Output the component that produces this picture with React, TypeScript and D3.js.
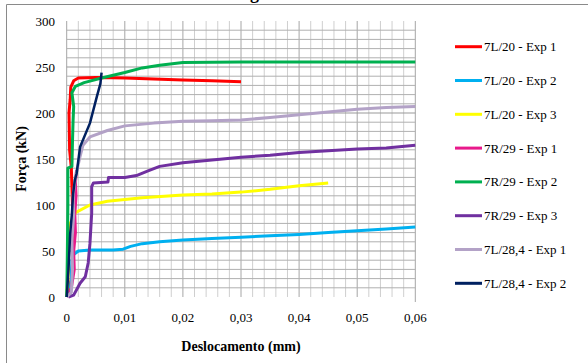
import * as d3 from "d3";

type Pt = [number, number];

// displacement (mm), force (kN)
const s7L20Exp1: Pt[] = [
  [0, 0], [0.0008, 20], [0.0012, 60], [0.001, 100], [0.0008, 140], [0.0005, 160],
  [0.0004, 200], [0.0006, 215], [0.0007, 228], [0.0012, 235], [0.002, 238],
  [0.005, 238.5], [0.01, 238], [0.015, 237], [0.02, 236], [0.025, 235], [0.03, 234],
];
const s7L20Exp2: Pt[] = [
  [0.0005, 0], [0.0008, 20], [0.0009, 40], [0.0012, 46], [0.002, 50], [0.004, 51],
  [0.008, 51], [0.0097, 52], [0.011, 55], [0.013, 58], [0.016, 60], [0.02, 62],
  [0.025, 63.5], [0.03, 65], [0.035, 66.5], [0.04, 68], [0.045, 70], [0.05, 72],
  [0.055, 74], [0.06, 76],
];
const s7L20Exp3: Pt[] = [
  [0, 0], [0.0003, 30], [0.0002, 60], [0.0003, 76], [0.0012, 88], [0.0016, 92],
  [0.004, 100], [0.007, 104], [0.013, 108], [0.02, 111], [0.025, 112], [0.03, 114],
  [0.035, 117], [0.04, 121], [0.045, 124],
];
const s7R29Exp1: Pt[] = [
  [0, 0], [0.0008, 10], [0.0013, 30], [0.0012, 50], [0.0015, 70], [0.0014, 90],
  [0.0016, 110], [0.0015, 125], [0.0017, 138],
];
const s7R29Exp2: Pt[] = [
  [0, 0], [0.0001, 40], [0.0002, 100], [0.0002, 140], [0.0009, 142], [0.001, 170],
  [0.0011, 192], [0.0012, 207], [0.0009, 222], [0.0015, 229], [0.003, 233],
  [0.006, 238], [0.01, 244], [0.013, 249], [0.016, 252], [0.02, 255], [0.03, 255.5],
  [0.04, 255.5], [0.05, 255.5], [0.06, 255.5],
];
const s7R29Exp3: Pt[] = [
  [0.0003, 0], [0.0012, 2], [0.0023, 15], [0.0032, 22], [0.0037, 37], [0.004, 58],
  [0.0043, 91], [0.0043, 120], [0.0046, 124], [0.0071, 125], [0.0072, 130],
  [0.01, 130], [0.012, 132], [0.014, 137], [0.016, 142], [0.02, 146], [0.025, 149],
  [0.03, 152], [0.035, 154], [0.04, 157], [0.045, 159], [0.05, 161], [0.055, 162],
  [0.06, 165],
];
const s7L284Exp1: Pt[] = [
  [0, 0], [0.0008, 5], [0.001, 30], [0.0009, 60], [0.0012, 90], [0.0011, 110],
  [0.0015, 130], [0.0022, 150], [0.0028, 165], [0.004, 174], [0.007, 181],
  [0.01, 186], [0.015, 189], [0.02, 191], [0.025, 191.5], [0.03, 192.5],
  [0.035, 195], [0.04, 198], [0.045, 201], [0.05, 204], [0.055, 206], [0.06, 207],
];
const s7L284Exp2: Pt[] = [
  [0, 0], [0.0003, 29], [0.0006, 69], [0.0009, 91], [0.0011, 112], [0.0014, 127],
  [0.0017, 134], [0.0023, 163], [0.004, 189], [0.0052, 218], [0.0058, 232],
  [0.006, 244],
];

const seriesNames = [
  "7L/20 - Exp 1", "7L/20 - Exp 2", "7L/20 - Exp 3", "7R/29 - Exp 1",
  "7R/29 - Exp 2", "7R/29 - Exp 3", "7L/28,4 - Exp 1", "7L/28,4 - Exp 2",
];
const seriesData = [
  s7L20Exp1, s7L20Exp2, s7L20Exp3, s7R29Exp1,
  s7R29Exp2, s7R29Exp3, s7L284Exp1, s7L284Exp2,
];
const colors = [
  "#ff0000", "#00b0f0", "#ffff00", "#e8198b",
  "#00b050", "#7030a0", "#b3a2c7", "#002060",
];

const xTicks = [0, 0.01, 0.02, 0.03, 0.04, 0.05, 0.06];
const yTicks = [0, 50, 100, 150, 200, 250, 300];

const font = "Liberation Serif, DejaVu Serif, serif";

export default function App() {
  const x = d3.scaleLinear().domain([0, 0.06]).range([66.7, 415.3]);
  const y = d3.scaleLinear().domain([0, 300]).range([297, 21]);
  const line = d3
    .line<Pt>()
    .x((d) => x(d[0]))
    .y((d) => y(d[1]));

  const vGrid = d3.range(0, 31).map((i) => i * 0.002);
  const hGrid = d3.range(1, 30).map((i) => i * 10);

  return (
    <svg
      width={588}
      height={363}
      style={{ position: "fixed", left: 0, top: 0, background: "#fff", fontFamily: font }}
    >
      <rect width={588} height={363} fill="#fff" />
      {/* frame */}
      <path d="M6.5,363V4.5H588" fill="none" stroke="#8a8a8a" strokeWidth={1} />
      <text x={250} y={-1} fontSize={18} fontWeight="bold" style={{ fontFamily: font }}>g</text>

      {/* grid */}
      {vGrid.map((v, i) => (
        <line
          key={`v${i}`}
          x1={x(v)}
          x2={x(v)}
          y1={y(300)}
          y2={i === 30 ? 302 : y(0)}
          stroke={i % 5 === 0 ? "#a6a6a6" : "#cfcfcf"}
          strokeWidth={1}
        />
      ))}
      {hGrid.map((v) => (
        <line
          key={`h${v}`}
          x1={x(0)}
          x2={x(0.06)}
          y1={y(v)}
          y2={y(v)}
          stroke={v % 50 === 0 ? "#999" : "#b0b0b0"}
          strokeWidth={1}
        />
      ))}

      {/* series */}
      {seriesData.map((d, i) => (
        <path
          key={seriesNames[i]}
          d={line(d) ?? ""}
          fill="none"
          stroke={colors[i]}
          strokeWidth={i === 7 ? 2.5 : 3}
          strokeLinejoin="round"
        />
      ))}

      {/* axes labels */}
      {yTicks.map((t) => (
        <text key={`yt${t}`} x={55} y={y(t) + 4.5} fontSize={13} textAnchor="end" style={{ fontFamily: font }}>
          {t}
        </text>
      ))}
      {xTicks.map((t) => (
        <text key={`xt${t}`} x={x(t)} y={322} fontSize={13} textAnchor="middle" style={{ fontFamily: font }}>
          {t === 0 ? "0" : t.toFixed(2).replace(".", ",")}
        </text>
      ))}
      <text x={241} y={351} fontSize={14} fontWeight="bold" textAnchor="middle" style={{ fontFamily: font }}>
        Deslocamento (mm)
      </text>
      <text
        transform={`translate(26,${(y(0) + y(300)) / 2}) rotate(-90)`}
        fontSize={14}
        fontWeight="bold"
        textAnchor="middle"
        style={{ fontFamily: font }}
      >
        Força (kN)
      </text>

      {/* legend */}
      {seriesNames.map((n, i) => {
        const cy = 46.7 + i * 33.8;
        return (
          <g key={`lg${i}`}>
            <line x1={455} x2={482} y1={cy} y2={cy} stroke={colors[i]} strokeWidth={3} />
            <text x={484} y={cy + 4.5} fontSize={13} style={{ fontFamily: font }}>
              {n}
            </text>
          </g>
        );
      })}
    </svg>
  );
}
